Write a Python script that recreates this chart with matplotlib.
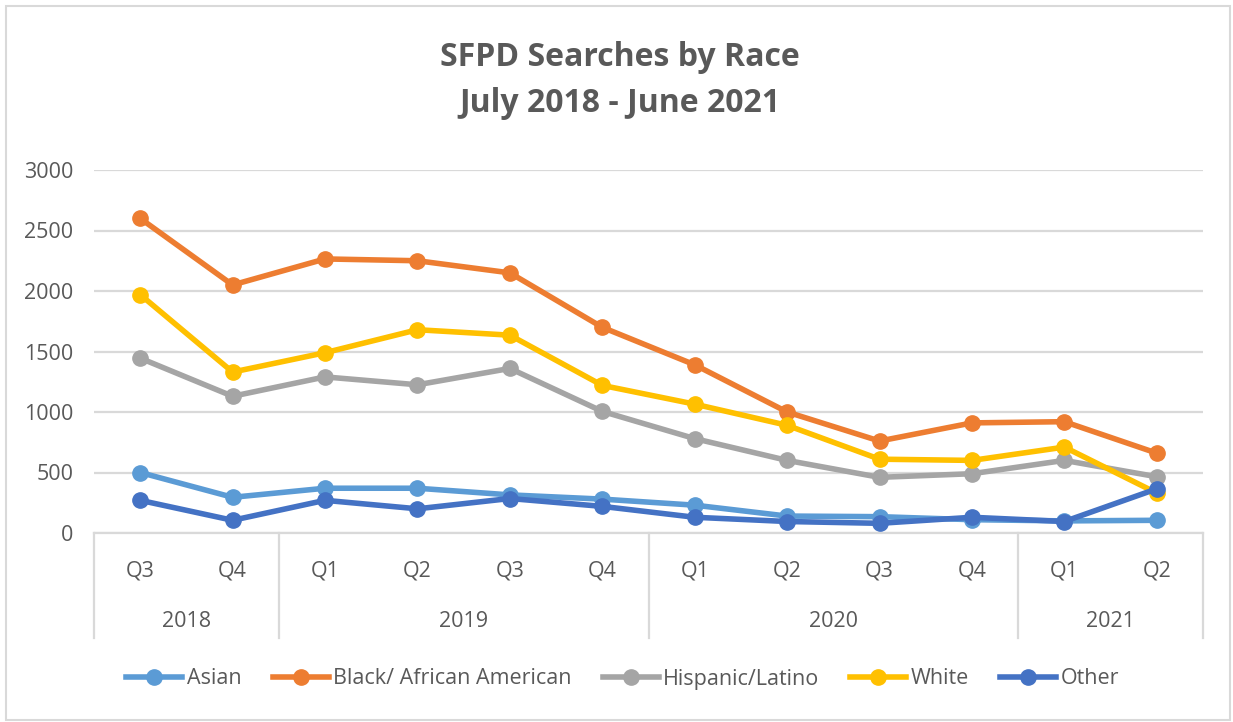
import matplotlib
matplotlib.use("Agg")
import matplotlib.pyplot as plt
import matplotlib.patches as patches
from matplotlib.lines import Line2D

plt.rcParams['font.family'] = ['Open Sans', 'DejaVu Sans']

quarters = ["Q3", "Q4", "Q1", "Q2", "Q3", "Q4", "Q1", "Q2", "Q3", "Q4", "Q1", "Q2"]
years = ["2018", "2019", "2020", "2021"]
year_counts = [2, 4, 4, 2]

asian = [500, 295, 370, 370, 315, 280, 230, 140, 135, 110, 100, 105]
black = [2600, 2050, 2265, 2250, 2150, 1700, 1390, 1000, 760, 910, 920, 660]
hispanic = [1445, 1130, 1290, 1225, 1360, 1005, 780, 600, 460, 490, 600, 465]
white = [1970, 1330, 1490, 1680, 1635, 1220, 1065, 890, 610, 600, 710, 330]
other = [270, 105, 270, 200, 285, 220, 130, 95, 80, 130, 95, 365]

series = [
    ("Asian", asian, "#5B9BD5"),
    ("Black/ African American", black, "#ED7D31"),
    ("Hispanic/Latino", hispanic, "#A5A5A5"),
    ("White", white, "#FFC000"),
    ("Other", other, "#4472C4"),
]

text_col = "#595959"
grid_col = "#D9D9D9"

fig = plt.figure(figsize=(12.33, 7.22), dpi=100)
ax = fig.add_axes([94 / 1233, 189 / 722, 1109 / 1233, 363 / 722])

x = list(range(len(quarters)))
for name, vals, col in series:
    ax.plot(x, vals, color=col, lw=4, marker="o", ms=11, label=name,
            solid_capstyle="round", zorder=3)

ax.set_xlim(-0.5, len(quarters) - 0.5)
ax.set_ylim(0, 3000)
ax.set_yticks(range(0, 3001, 500))
ax.yaxis.grid(True, color=grid_col, lw=1.6)
ax.set_axisbelow(True)
for s in ["top", "right", "left"]:
    ax.spines[s].set_visible(False)
ax.spines["bottom"].set_color(grid_col)
ax.spines["bottom"].set_linewidth(1.6)
ax.tick_params(axis="y", length=0, pad=15, labelsize=15.5, labelcolor=text_col)
ax.set_xticks(x)
ax.set_xticklabels(quarters)
ax.tick_params(axis="x", length=0, pad=20, labelsize=15.5, labelcolor=text_col)

# year groups under the quarters
trans = ax.get_xaxis_transform()
start = -0.5
bounds = [start]
for yr, n in zip(years, year_counts):
    end = start + n
    ax.text((start + end) / 2, -0.245, yr, transform=trans, ha="center",
            va="center", fontsize=15.5, color=text_col)
    start = end
    bounds.append(end)
for b in bounds:
    ax.plot([b, b], [0, -0.29], transform=trans, color=grid_col, lw=1.6,
            clip_on=False)

fig.text(0.503, 1 - 57 / 722, "SFPD Searches by Race", ha="center", va="center",
         fontsize=23, fontweight="bold", color=text_col)
fig.text(0.503, 1 - 104 / 722, "July 2018 - June 2021", ha="center", va="center",
         fontsize=23, fontweight="bold", color=text_col)

handles = [Line2D([], [], color=c, lw=4, marker="o", ms=11) for _, _, c in series]
fig.legend(handles, [n for n, _, _ in series], loc="center",
           bbox_to_anchor=(0.505, 1 - 679 / 722), ncol=5, frameon=False,
           fontsize=15.5, labelcolor=text_col, handlelength=2.6,
           handletextpad=0.2, columnspacing=1.45)

fig.patches.append(patches.Rectangle((6 / 1233, 2 / 722), 1224 / 1233, 714 / 722,
                                     transform=fig.transFigure, fill=False,
                                     edgecolor=grid_col, lw=1.5))

fig.savefig("out.png", dpi=100, facecolor="white")
